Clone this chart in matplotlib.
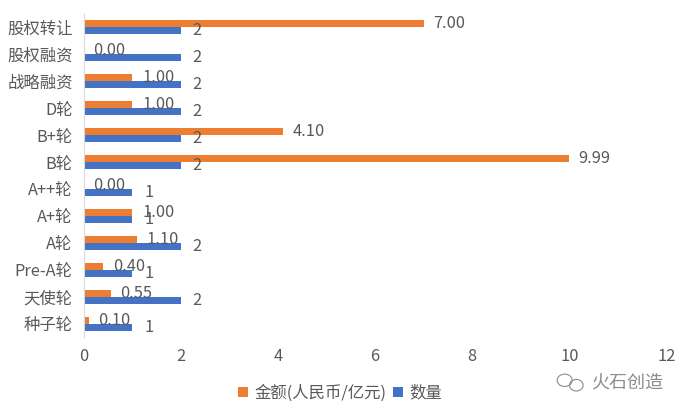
import matplotlib.pyplot as plt
from matplotlib.patches import Ellipse

plt.rcParams['font.family'] = ['Noto Sans CJK SC', 'DejaVu Sans']

# 数据
categories = ['股权转让', '股权融资', '战略融资', 'D轮', 'B+轮', 'B轮',
              'A++轮', 'A+轮', 'A轮', 'Pre-A轮', '天使轮', '种子轮']
amounts = [7.00, 0.00, 1.00, 1.00, 4.10, 9.99, 0.00, 1.00, 1.10, 0.40, 0.55, 0.10]
counts = [2, 2, 2, 2, 2, 2, 1, 1, 2, 1, 2, 1]

ORANGE = '#ED7D31'
BLUE = '#4472C4'
TEXT = '#595959'
FS = 11.8

fig = plt.figure(figsize=(6.82, 4.12), dpi=100)
ax = fig.add_axes([0.123, 0.182, 0.854, 0.784])

y = list(range(len(categories)))
h = 0.26
y_amt = [v - h / 2 for v in y]
y_cnt = [v + h / 2 for v in y]

ax.barh(y_amt, amounts, height=h, color=ORANGE, label='金额(人民币/亿元)')
ax.barh(y_cnt, counts, height=h, color=BLUE, label='数量')

# 数据标签
for yy, v in zip(y_amt, amounts):
    ax.annotate(f'{v:.2f}', (v, yy), xytext=(7, 0), textcoords='offset points',
                ha='left', va='center', fontsize=FS, color=TEXT)
for yy, v in zip(y_cnt, counts):
    ax.annotate(f'{v}', (v, yy), xytext=(8.5, 0), textcoords='offset points',
                ha='left', va='center', fontsize=FS, color=TEXT)

ax.set_xlim(0, 12)
ax.set_xticks([0, 2, 4, 6, 8, 10, 12])
ax.set_ylim(len(categories) - 0.5, -0.5)
ax.set_yticks(y)
ax.set_yticklabels(categories)
ax.tick_params(axis='both', length=0, labelsize=FS, labelcolor=TEXT)
ax.tick_params(axis='x', pad=8)
ax.tick_params(axis='y', pad=8)

for s in ['top', 'right', 'bottom']:
    ax.spines[s].set_visible(False)
ax.spines['left'].set_color('#D9D9D9')

fig.legend(loc='center', bbox_to_anchor=(0.499, 0.046), ncol=2, frameon=False,
           fontsize=FS, labelcolor=TEXT, handlelength=0.6, handleheight=0.6,
           handletextpad=0.4, columnspacing=0.4)

# 水印
wm = '#8C8C8C'
fig.patches.append(Ellipse((0.828, 0.077), 0.022, 0.03, transform=fig.transFigure,
                           fill=False, edgecolor=wm, linewidth=0.8))
fig.patches.append(Ellipse((0.845, 0.065), 0.02, 0.028, transform=fig.transFigure,
                           fill=False, edgecolor=wm, linewidth=0.8))
fig.text(0.866, 0.07, '火石创造', fontsize=13, color=wm, va='center', ha='left')

plt.savefig('out.png', dpi=100)
